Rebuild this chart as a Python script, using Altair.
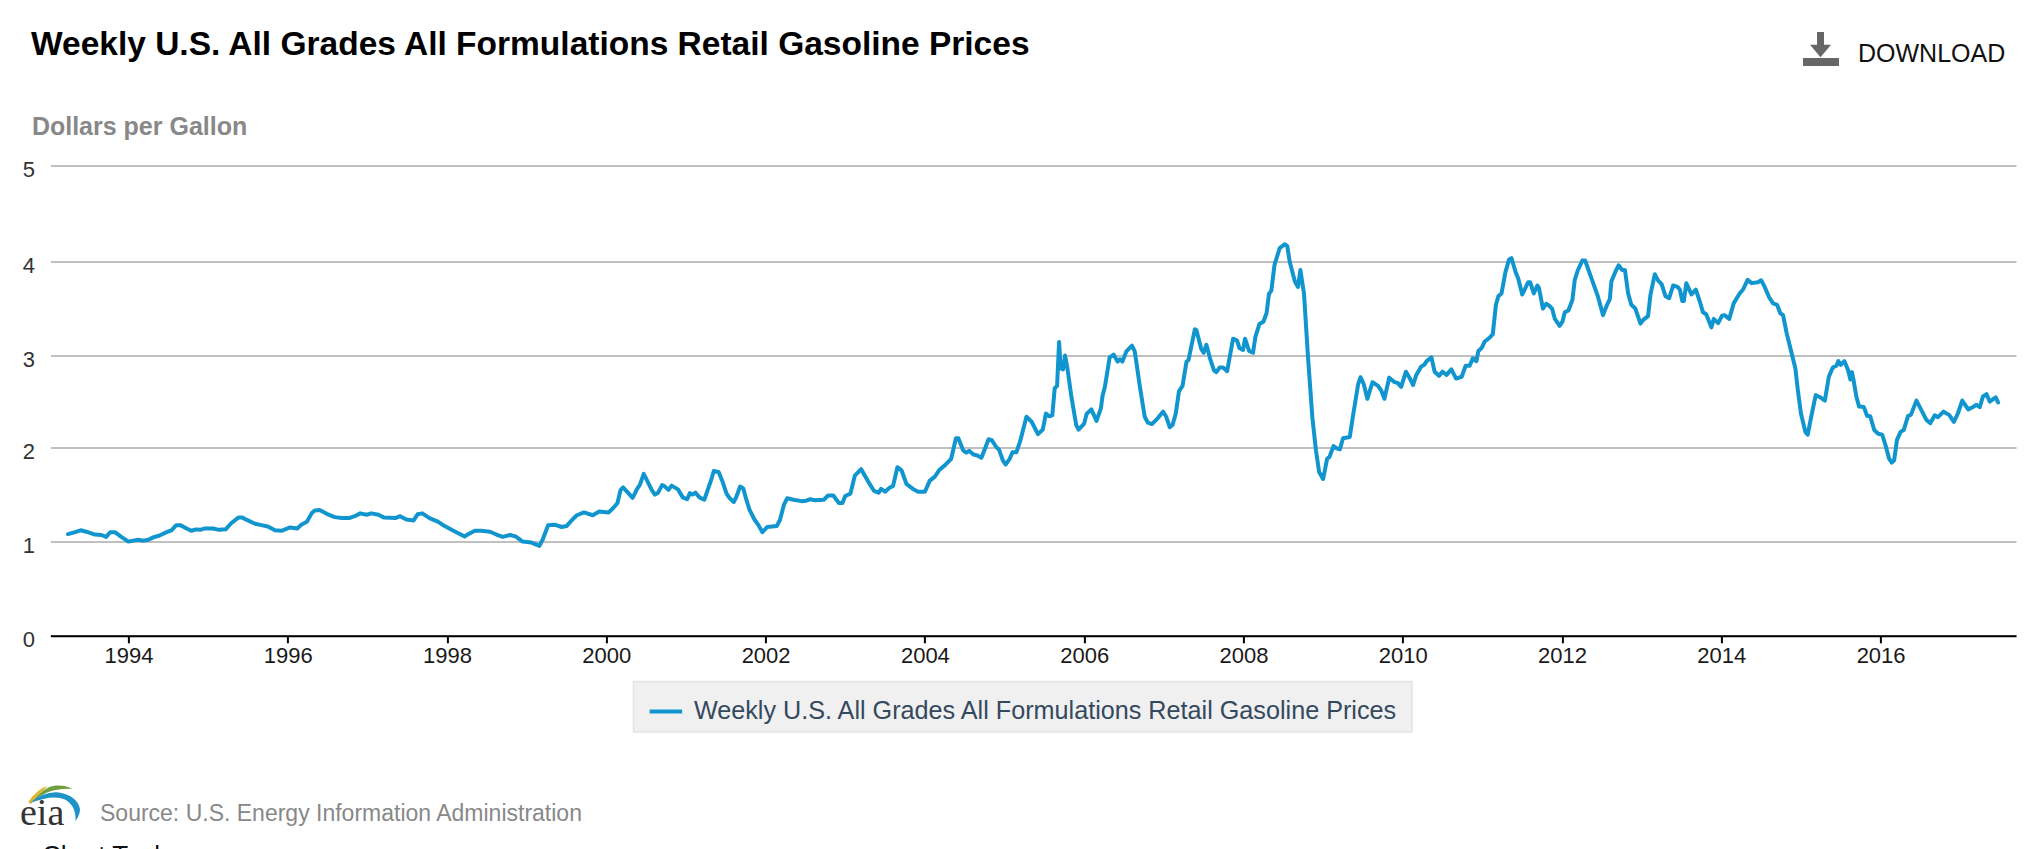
import altair as alt
import pandas as pd

SERIES = "Weekly U.S. All Grades All Formulations Retail Gasoline Prices"

years_a = [1993.24,1993.33,1993.40,1993.47,1993.58,1993.66,1993.72,1993.77,1993.83,1993.91,1994.0,1994.06,1994.12,1994.19,1994.25,1994.31,1994.39,1994.48,1994.54,1994.60,1994.65,1994.73,1994.79,1994.85,1994.90,1994.96,1995.06,1995.14,1995.22,1995.29,1995.38,1995.43,1995.50,1995.59,1995.67,1995.75,1995.84,1995.92,1996.03,1996.12,1996.17,1996.24,1996.30,1996.34,1996.40,1996.49,1996.59,1996.68,1996.77,1996.84,1996.91,1996.99,1997.05,1997.14,1997.21,1997.35,1997.41,1997.49,1997.58,1997.63,1997.69,1997.78,1997.89,1997.97,1998.08,1998.16,1998.22,1998.27,1998.35,1998.43,1998.54,1998.62,1998.70,1998.79,1998.86,1998.95,1999.06,1999.16,1999.20]
prices_a = [1.08,1.10,1.12,1.105,1.075,1.07,1.05,1.10,1.10,1.05,1.00,1.01,1.02,1.01,1.02,1.045,1.065,1.10,1.12,1.175,1.175,1.14,1.115,1.13,1.125,1.14,1.14,1.125,1.13,1.195,1.255,1.255,1.225,1.19,1.175,1.16,1.12,1.115,1.15,1.14,1.18,1.21,1.30,1.33,1.335,1.295,1.26,1.25,1.25,1.27,1.30,1.285,1.30,1.285,1.255,1.25,1.27,1.235,1.225,1.29,1.30,1.25,1.21,1.165,1.115,1.08,1.055,1.08,1.115,1.115,1.105,1.075,1.05,1.07,1.055,1.00,0.99,0.955,1.02]

years_b = [1999.27,1999.35,1999.44,1999.50,1999.575,1999.63,1999.72,1999.83,1999.91,2000.03,2000.09,2000.14,2000.18,2000.21,2000.26,2000.33,2000.39,2000.42,2000.47,2000.50,2000.57,2000.61,2000.65,2000.70,2000.73,2000.78,2000.82,2000.90,2000.96,2001.015,2001.05,2001.08,2001.12,2001.17,2001.23,2001.28,2001.32,2001.35,2001.41,2001.46,2001.51,2001.55,2001.60,2001.63,2001.68,2001.72,2001.76,2001.80,2001.86,2001.91,2001.96,2002.02,2002.14,2002.18,2002.23,2002.27,2002.35,2002.45,2002.51,2002.56,2002.62,2002.73,2002.785,2002.85,2002.92,2002.965,2003.0,2003.065,2003.12,2003.20,2003.29,2003.36,2003.42,2003.45,2003.50,2003.56,2003.60,2003.655]
prices_b = [1.175,1.18,1.155,1.165,1.235,1.28,1.31,1.28,1.32,1.31,1.36,1.41,1.55,1.575,1.53,1.465,1.565,1.60,1.72,1.67,1.55,1.50,1.52,1.60,1.59,1.55,1.595,1.555,1.47,1.45,1.515,1.50,1.52,1.47,1.445,1.565,1.665,1.75,1.74,1.635,1.51,1.46,1.42,1.47,1.585,1.565,1.44,1.335,1.235,1.175,1.10,1.155,1.165,1.23,1.39,1.46,1.445,1.43,1.435,1.45,1.44,1.445,1.49,1.49,1.41,1.41,1.485,1.51,1.70,1.77,1.635,1.54,1.52,1.56,1.53,1.575,1.59,1.79]

years_c = [2003.69,2003.71,2003.77,2003.85,2003.915,2004.0,2004.06,2004.125,2004.18,2004.25,2004.33,2004.39,2004.42,2004.48,2004.52,2004.555,2004.61,2004.66,2004.71,2004.765,2004.80,2004.84,2004.90,2004.93,2004.98,2005.015,2005.065,2005.10,2005.15,2005.20,2005.275,2005.34,2005.42,2005.48,2005.52,2005.56,2005.60,2005.63,2005.66,2005.685,2005.705,2005.735,2005.76,2005.79,2005.84,2005.90,2005.93,2006.0,2006.03,2006.09,2006.155,2006.21,2006.23,2006.26,2006.32,2006.37,2006.42,2006.45,2006.48,2006.53,2006.60,2006.635,2006.70,2006.76,2006.80,2006.85,2006.92,2006.99,2007.03,2007.075,2007.11,2007.15,2007.19,2007.235,2007.285,2007.31,2007.39,2007.41,2007.47,2007.50,2007.535,2007.58,2007.63,2007.66,2007.70,2007.745,2007.795]
prices_c = [1.77,1.75,1.61,1.56,1.53,1.53,1.645,1.69,1.76,1.81,1.88,2.10,2.10,1.97,1.945,1.965,1.925,1.915,1.89,2.01,2.09,2.08,2.0,1.98,1.86,1.82,1.88,1.95,1.95,2.08,2.335,2.28,2.145,2.195,2.37,2.34,2.35,2.645,2.67,3.145,2.86,2.85,3.0,2.86,2.55,2.245,2.195,2.26,2.365,2.415,2.29,2.425,2.56,2.66,2.98,3.01,2.935,2.96,2.935,3.045,3.105,3.045,2.66,2.335,2.27,2.255,2.315,2.39,2.335,2.22,2.245,2.37,2.61,2.67,2.935,2.95,3.28,3.27,3.07,3.03,3.115,2.97,2.84,2.82,2.87,2.87,2.83]

years_d = [2007.87,2007.92,2007.95,2007.995,2008.02,2008.07,2008.12,2008.15,2008.20,2008.25,2008.29,2008.32,2008.35,2008.39,2008.455,2008.52,2008.55,2008.58,2008.645,2008.685,2008.715,2008.76,2008.81,2008.865,2008.91,2008.95,2009.0,2009.05,2009.08,2009.13,2009.17,2009.21,2009.25,2009.335,2009.37,2009.44,2009.47,2009.51,2009.555,2009.62,2009.69,2009.73,2009.77,2009.83,2009.89,2009.94,2009.98,2010.04,2010.09,2010.13,2010.17,2010.23,2010.27,2010.30,2010.36,2010.40,2010.455,2010.50,2010.55,2010.61,2010.67,2010.74,2010.79,2010.84,2010.88,2010.925,2010.95,2010.99,2011.03,2011.09,2011.13,2011.17,2011.20,2011.24,2011.29,2011.335]
prices_d = [3.18,3.16,3.08,3.06,3.18,3.05,3.03,3.20,3.335,3.36,3.45,3.655,3.69,3.965,4.14,4.18,4.16,4.0,3.79,3.73,3.91,3.66,2.99,2.33,1.97,1.74,1.665,1.88,1.90,2.015,1.99,1.98,2.10,2.115,2.315,2.69,2.765,2.69,2.53,2.71,2.67,2.62,2.53,2.76,2.715,2.70,2.66,2.825,2.75,2.68,2.79,2.88,2.90,2.94,2.98,2.825,2.78,2.825,2.79,2.85,2.75,2.77,2.89,2.89,2.97,2.94,3.05,3.08,3.15,3.19,3.225,3.54,3.63,3.66,3.89,4.02]

years_e = [2011.365,2011.42,2011.45,2011.50,2011.53,2011.575,2011.60,2011.645,2011.69,2011.71,2011.76,2011.80,2011.84,2011.875,2011.91,2011.97,2012.005,2012.035,2012.08,2012.13,2012.16,2012.20,2012.255,2012.29,2012.37,2012.45,2012.515,2012.565,2012.60,2012.62,2012.675,2012.71,2012.755,2012.79,2012.83,2012.87,2012.92,2012.985,2013.02,2013.08,2013.11,2013.165,2013.205,2013.25,2013.30,2013.345,2013.395,2013.45,2013.48,2013.51,2013.53,2013.56,2013.625,2013.68,2013.73,2013.77,2013.81,2013.875,2013.905,2013.96,2014.01,2014.04,2014.10,2014.155,2014.23,2014.275,2014.33,2014.38,2014.46,2014.50,2014.545,2014.60,2014.65,2014.70,2014.74,2014.775]
prices_e = [4.035,3.88,3.82,3.65,3.70,3.78,3.78,3.66,3.745,3.72,3.50,3.55,3.53,3.50,3.39,3.315,3.36,3.46,3.48,3.59,3.805,3.91,4.01,4.01,3.82,3.63,3.43,3.54,3.60,3.79,3.90,3.96,3.91,3.91,3.66,3.54,3.50,3.34,3.38,3.42,3.645,3.865,3.80,3.76,3.63,3.61,3.745,3.73,3.70,3.58,3.58,3.77,3.65,3.70,3.575,3.46,3.44,3.30,3.39,3.345,3.425,3.43,3.39,3.555,3.66,3.705,3.805,3.77,3.78,3.80,3.73,3.62,3.555,3.54,3.45,3.43]

years_f = [2014.82,2014.89,2014.93,2014.96,2015.0,2015.055,2015.085,2015.13,2015.185,2015.235,2015.30,2015.35,2015.40,2015.445,2015.47,2015.50,2015.545,2015.59,2015.62,2015.64,2015.66,2015.695,2015.73,2015.79,2015.83,2015.87,2015.92,2015.97,2016.02,2016.06,2016.105,2016.14,2016.17,2016.205,2016.25,2016.29,2016.345,2016.38,2016.45,2016.51,2016.575,2016.625,2016.68,2016.72,2016.79,2016.86,2016.92,2016.97,2017.025,2017.10,2017.16,2017.20,2017.245,2017.285,2017.33,2017.37,2017.41,2017.445,2017.475]
prices_f = [3.24,3.0,2.86,2.63,2.37,2.17,2.14,2.34,2.57,2.55,2.51,2.77,2.87,2.89,2.94,2.90,2.94,2.845,2.74,2.82,2.735,2.555,2.445,2.44,2.345,2.34,2.19,2.15,2.14,2.03,1.885,1.84,1.865,2.08,2.17,2.19,2.345,2.355,2.51,2.41,2.30,2.265,2.35,2.33,2.39,2.355,2.28,2.37,2.51,2.415,2.44,2.465,2.44,2.555,2.58,2.50,2.525,2.545,2.49]

x_ticks = list(range(1994, 2018, 2))
y_ticks = [0, 1, 2, 3, 4, 5]
y_range = [470.4, 376.2, 282.1, 190.2, 96.1, 0]

years = years_a + years_b + years_c + years_d + years_e + years_f
prices = prices_a + prices_b + prices_c + prices_d + prices_e + prices_f
df = pd.DataFrame({"year": years, "price": prices, "series": SERIES})

FONT = "Liberation Sans"
LEFT, TOP = 50.4, 165.4


def px(x):
    return x - LEFT


def py(y):
    return y - TOP


one = alt.Data(values=[{"a": 1}])


def label(text, x, y, size, color, weight="normal", font=FONT, align="left"):
    return alt.Chart(one).mark_text(
        font=font, fontSize=size, color=color, fontWeight=weight, align=align, baseline="middle"
    ).encode(x=alt.value(px(x)), y=alt.value(py(y)), text=alt.value(text))


def shape(path, x, y, r, color):
    return alt.Chart(one).mark_point(
        shape=path, filled=True, fill=color, stroke=color, strokeWidth=0, opacity=1, size=4 * r * r
    ).encode(x=alt.value(px(x)), y=alt.value(py(y)))


legend_box = alt.Chart(one).mark_rect(fill="#f0f0f0", stroke="#e4e4e4", strokeWidth=1.5).encode(
    x=alt.value(px(633.5)), x2=alt.value(px(1412)), y=alt.value(py(681.5)), y2=alt.value(py(732))
)

line = alt.Chart(df).mark_line(strokeWidth=4, strokeJoin="round", strokeCap="round").encode(
    x=alt.X(
        "year:Q",
        scale=alt.Scale(domain=[1993.02, 2017.7], nice=False, zero=False),
        axis=alt.Axis(
            title=None, values=x_ticks, format="d", grid=False, tickSize=7, tickWidth=2,
            tickColor="#000000", domainColor="#000000", domainWidth=2, labelFont=FONT,
            labelFontSize=22, labelColor="#1a1a1a", labelPadding=3, labelOverlap=False,
        ),
    ),
    y=alt.Y(
        "price:Q",
        scale=alt.Scale(domain=y_ticks, range=y_range),
        axis=alt.Axis(
            title="Dollars per Gallon", titleAngle=0, titleAlign="left", titleBaseline="middle",
            titleX=-19, titleY=-38.5, titleFont=FONT, titleFontSize=25, titleFontWeight="bold",
            titleColor="#888888", values=y_ticks, format="d", grid=True, gridColor="#c0c0c0",
            gridWidth=2, domain=False, ticks=False, labelFont=FONT, labelFontSize=22,
            labelColor="#333333", labelPadding=16, labelOffset=4,
        ),
    ),
    color=alt.Color(
        "series:N",
        scale=alt.Scale(domain=[SERIES], range=["#1095cf"]),
        legend=alt.Legend(
            title=None, orient="none", legendX=597, legendY=527.5, padding=0,
            symbolType="stroke", symbolSize=1056, symbolStrokeWidth=4, labelOffset=9.5,
            labelFont=FONT, labelFontSize=25.2, labelColor="#34495e", labelLimit=0,
            symbolOpacity=1,
        ),
    ),
)

annotations = [
    label(SERIES, 31, 45, 33.5, "#000000", weight="bold"),
    label("DOWNLOAD", 1858, 54.5, 25, "#111111"),
    alt.Chart(one).mark_rect(color="#666666").encode(
        x=alt.value(px(1803)), x2=alt.value(px(1839)), y=alt.value(py(58)), y2=alt.value(py(66))
    ),
    alt.Chart(one).mark_rect(color="#666666").encode(
        x=alt.value(px(1817)), x2=alt.value(px(1824)), y=alt.value(py(32)), y2=alt.value(py(46))
    ),
    shape("M -1 -0.6 L 1 -0.6 L 0 0.6 Z", 1820.5, 51, 10.5, "#666666"),
    shape("M -.73 -.03 Q -.4 -.5 -.07 -.57 Q -.4 -.3 -.65 .03 Z", 50, 803, 30, "#e3b52c"),
    shape("M -.6 -.03 Q -.2 -.55 .2 -.58 Q .5 -.6 .75 -.47 Q .3 -.5 -.1 -.35 Q -.35 -.25 -.6 -.03 Z", 50, 803, 30, "#6f9e3c"),
    shape("M -.67 0 Q -.2 -.4 .3 -.35 Q .9 -.25 1 .2 Q 1 .4 .85 .6 Q .88 .1 .5 -.12 Q .1 -.3 -.67 0 Z", 50, 803, 30, "#1e93c8"),
    label("eia", 20, 814, 38, "#333333", font="Liberation Serif"),
    label("Source: U.S. Energy Information Administration", 100, 814, 23, "#888888"),
    label("Chart Tools", 42, 856, 26, "#111111"),
]

chart = alt.layer(legend_box, line, *annotations).properties(
    width=1965.6,
    height=470.4,
    padding={"left": 42.4, "top": 157.4, "right": 15, "bottom": 213.2},
    autosize=alt.AutoSizeParams(type="none"),
    background="#ffffff",
).configure_view(stroke=None)

chart.save("out.html", embed_options={"renderer": "svg", "actions": False})
